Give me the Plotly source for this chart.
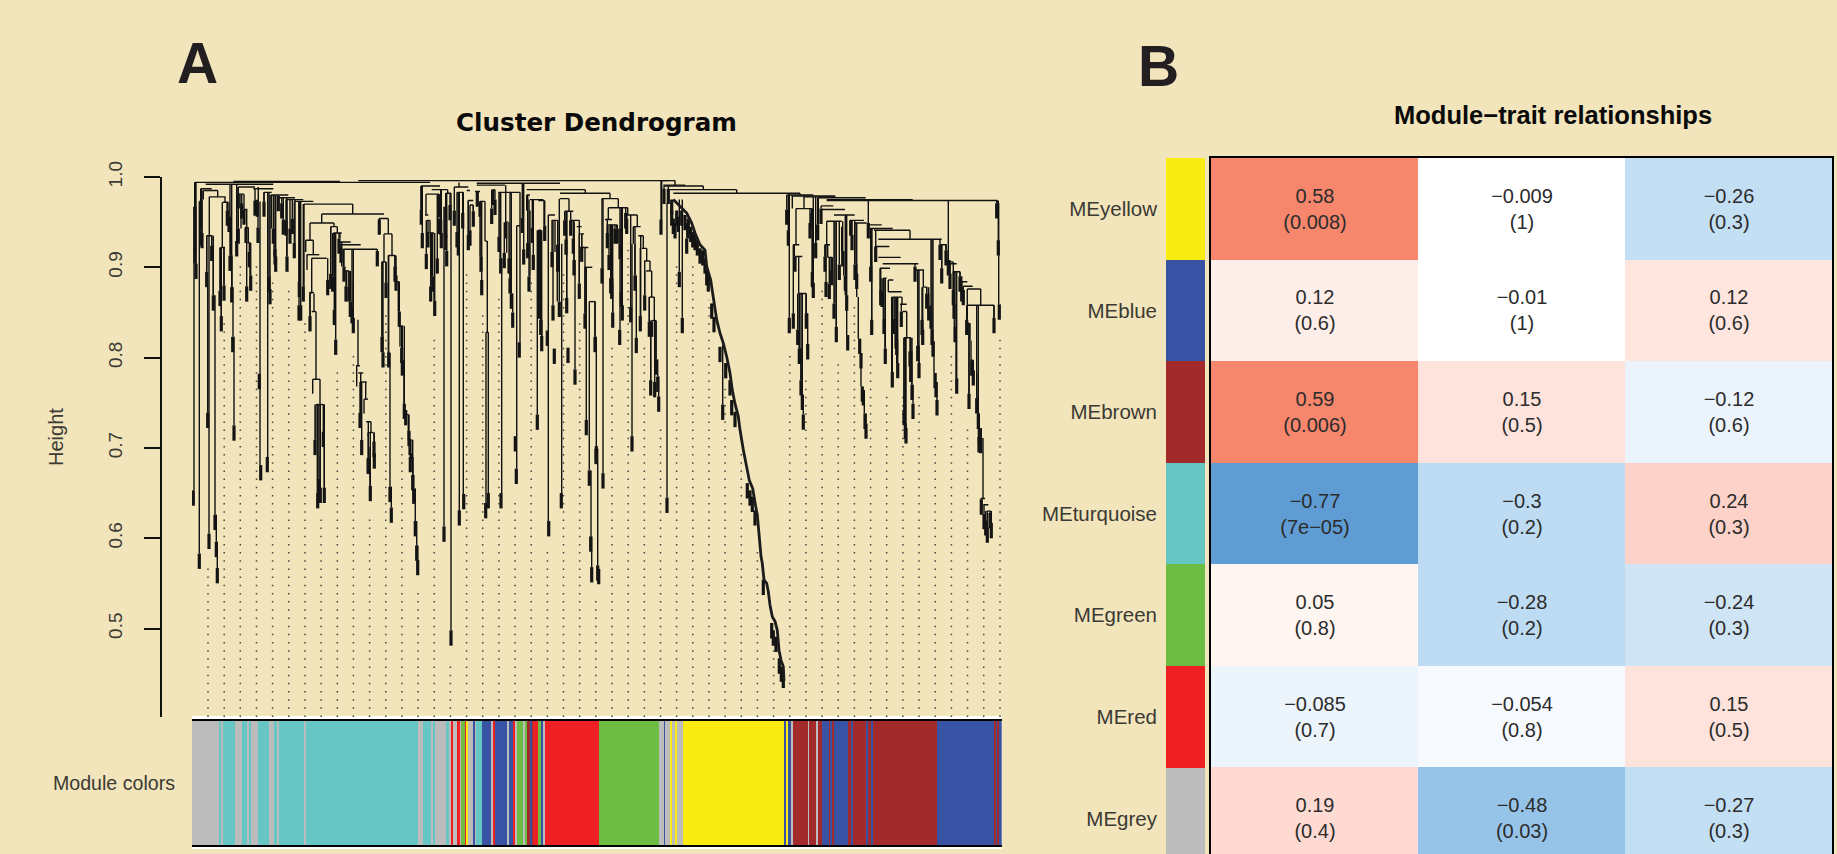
import plotly.graph_objects as go

# ------------------------------------------------------------ dendrogram data
# horizontal merge brackets: left / right gene-order position, merge height
cap_left = [3,41.3,13.7,9,11.3,17.3,30.7,14.7,29,46.3,48,52,53,55.3,61.3,63,72,78.7,86.3,94.7,103,112,129.7,118,187.3,192,138.7,141.3,146.3,148,151.3,113.7,114.7,119.7,117.3,119.7,120.7,124,152,196.3,189.7,204.7,208,164,166.3,168,172,174,176.3,213,216.3,
 229,239.7,234,233,234.7,238,254,262.3,265.3,274.7,276.3,278,284.7,283,288,293,294,300.7,306.3,313,324.7,334.7,334.7,338,346.3,356.3,359.7,346.3,284.7,
 166.3,469,471.3,472,475.3,481.3,594.7,599.7,611.3,626.3,634.7,634.7,368,368,368,372.7,378.7,384.7,387.3,389.7,393,397.3,409.7,416.3,413,416.3,433.7,441.3,446.3,449.7,452,454,457.3,459.7,
 604,601.3,603,606.7,629.7,629,634.7,642,633,635.7,658,663,676.3,678,682,686.3,683,686.3,690.7,688,691.3,696.3,696.3,699.7,708,710.7,712,724,731.3,748,753,756.3,761.3,768,771.3,775.3,775.3,774,778.7,788.7,791.3,794.7]
cap_right = [238,148,81.3,19.7,25.7,33.3,36.3,20.3,33,63,52,55.3,56.3,58.7,81.3,66.3,79.7,96.3,103,111.3,121.3,160.7,192,142,196.3,200,145.3,149.7,158.7,168.7,185.3,121.3,127.3,134.7,122,124,128,131.3,157.3,203,194,207.3,211.3,168,171.3,174.7,176,179,181.3,216.3,219.7,
 248,255.7,247,236.3,238,242,259,276.3,271.3,278,281.3,281.3,313,288,293,295.3,296.3,303,328,316.3,328,368,338,351.3,352.3,363,365.3,349,368,
 476.7,483,493,511.3,544.7,608,621.3,643,643,673.7,720.7,805.3,393.3,418,377,381.3,387.3,389.7,392,396.3,400.3,403.3,426.3,435.7,420,424.7,445.3,448.7,451.3,454.7,458,459.7,462.3,464,
 619.7,607.3,610.3,614,653,641.3,649.7,662.7,638,640.3,672,674.7,689.7,700.7,718,749.7,697.3,708.7,726.3,698,694.7,701.3,709.7,710,714.7,714.7,718.7,732,735.3,754.7,761.3,764.7,768,775.3,780.7,788.7,802,777.3,781.3,793,796.3,799]
cap_height = [.994,.995,.992,.987,.985,.978,.972,.935,.922,.989,.981,.964,.944,.927,.987,.974,.983,.980,.977,.975,.973,.970,.959,.949,.954,.937,.945,.938,.928,.925,.920,.930,.914,.910,.872,.851,.776,.748,.896,.913,.906,.884,.835,.791,.783,.773,.754,.729,.717,.737,.709,
 .990,.986,.981,.958,.952,.938,.982,.989,.983,.985,.974,.969,.991,.984,.973,.929,.828,.986,.983,.950,.946,.986,.980,.975,.974,.958,.952,.941,.993,
 .996,.996,.991,.990,.986,.982,.980,.979,.978,.977,.975,.974,.986,.982,.976,.962,.952,.945,.937,.922,.900,.862,.976,.966,.953,.947,.958,.945,.935,.921,.907,.896,.867,.841,
 .965,.925,.912,.871,.964,.968,.951,.958,.925,.911,.952,.949,.947,.943,.941,.931,.923,.911,.904,.899,.888,.886,.873,.867,.859,.851,.822,.897,.878,.925,.906,.904,.895,.884,.879,.876,.858,.838,.797,.644,.637,.630]

# vertical branches: gene-order position, upper and lower height
stem_order = [3,2,7.3,9,11.3,25.7,17.3,17,15.7,14.7,19.7,21.3,23,24.3,25.3,30.3,33,28.3,32,29.3,35.3,38.7,40,41,42,46.3,49,52,54.7,56.3,58,63,68,66.3,72,75.7,79.3,82,94.7,103,107.3,112,113.7,121.3,115,119.7,118,122,124,120.7,128,124,132,125.3,128.3,132.3,118,129.7,160.7,142,138.7,143,142,145.3,148,149.7,151.3,154.7,157,161.3,166,164.7,168.7,173.7,172,176.3,179,168,178,182.3,196.3,187.3,192,200,190,194,198,196.3,199.3,203,206.3,208,209.7,212,213.7,216.3,219.7,221,223.3,224.7,225.7,203,207.3,218,221.7,
 229,234,238,239.7,242,247,252,259,255.7,267,267.3,271.3,276.3,281.3,288,293,295.3,294,296.3,308,309.7,313.7,314.7,318,319,320.7,324.7,328,328,334.7,338,341.3,345.3,347,348.7,349.7,352,356.3,363,365.3,369.7,
 469.7,475,487.3,490.3,377,374.7,382,383,378.7,387.3,389.7,393,394.3,397.3,399,399.7,403,404.3,405.7,411,416.3,415.3,419,420.7,424.7,428,428,430,440,441.3,443,444.3,448.7,452.7,457.3,458.7,462.3,464,465.7,466.7,530.7,
 597.3,600.3,604,602.3,606.7,607.3,609,610.3,611.3,614,615.7,619.7,620.3,621.3,612,626.3,623.7,634.7,633,635.7,638,640.3,649.7,651.7,653.3,654.7,643,644.3,662.7,664.7,666.3,667.7,669,670.3,672.3,674,679.7,683.7,688,691.3,693,696.3,699.7,703,704.7,710,709.3,714.7,712,713.3,718.7,719.7,721,725.7,727,731.3,734.7,736.7,739,740.3,742,743.7,745,748,749.7,754,756.3,758,761.3,762.3,764,768,769.7,775.3,788.7,802,805.3,806.7,778,775.3,779,781.3,784.7,786,787.3,789.3,791,777,
 483,493,511.3,544.7,608,643,718,393.3,418,426.3,435.7,445.3,451.3,454.7,458,459.7]
stem_top = [.994,.967,.973,.987,.985,.985,.978,.935,.879,.935,.935,.923,.869,.626,.596,.972,.978,.922,.922,.874,.972,.956,.913,.878,.823,.989,.981,.981,.964,.944,.927,.987,.973,.989,.983,.983,.980,.943,.977,.975,.973,.970,.930,.930,.914,.910,.871,.871,.851,.776,.776,.748,.748,.709,.690,.718,.949,.959,.970,.949,.945,.890,.938,.945,.938,.928,.920,.896,.896,.879,.842,.791,.783,.773,.754,.729,.729,.738,.701,.698,.954,.954,.937,.937,.906,.906,.805,.913,.657,.913,.884,.835,.812,.797,.742,.737,.694,.690,.655,.619,.592,.901,.851,.709,.670,
 .990,.981,.952,.938,.890,.981,.967,.982,.986,.994,.983,.983,.974,.969,.973,.973,.929,.828,.828,.983,.910,.991,.949,.910,.888,.871,.946,.983,.946,.980,.963,.975,.941,.941,.860,.842,.974,.958,.952,.925,.926,
 .996,.971,.975,.975,.976,.962,.949,.908,.962,.952,.937,.922,.900,.862,.675,.602,.862,.823,.699,.976,.966,.953,.947,.888,.947,.943,.926,.926,.926,.945,.926,.891,.935,.907,.867,.840,.867,.841,.798,.779,.814,
 .981,.979,.965,.925,.912,.871,.810,.775,.759,.871,.849,.965,.960,.895,.978,.977,.947,.951,.925,.925,.911,.911,.945,.918,.891,.869,.951,.860,.952,.903,.867,.821,.805,.768,.764,.738,.943,.941,.899,.888,.843,.886,.867,.867,.827,.867,.859,.851,.822,.742,.822,.807,.770,.897,.813,.897,.878,.871,.858,.831,.818,.783,.773,.931,.925,.925,.919,.908,.906,.875,.834,.895,.890,.876,.876,.858,.974,.971,.838,.858,.819,.790,.783,.755,.738,.722,.711,.838,
 .996,.991,.990,.986,.982,.979,.941,.986,.982,.976,.966,.958,.935,.921,.907,.896]
stem_bottom = [.967,.653,.583,.973,.975,.978,.935,.605,.739,.895,.924,.869,.626,.596,.567,.922,.972,.874,.880,.846,.963,.913,.878,.823,.725,.943,.943,.964,.944,.927,.891,.974,.681,.973,.973,.690,.943,.912,.912,.927,.884,.879,.917,.914,.897,.871,.846,.851,.776,.760,.748,.709,.718,.650,.656,.656,.930,.949,.959,.945,.893,.853,.890,.938,.932,.901,.901,.879,.879,.844,.791,.768,.738,.754,.738,.713,.717,.724,.658,.694,.937,.937,.906,.913,.823,.883,.657,.806,.634,.901,.851,.812,.797,.749,.737,.709,.687,.670,.619,.592,.576,.884,.835,.694,.655,
 .963,.958,.938,.890,.863,.973,.613,.498,.982,.989,.631,.649,.936,.962,.912,.929,.828,.639,.650,.910,.650,.949,.916,.888,.871,.850,.677,.946,.817,.963,.890,.944,.737,.860,.842,.824,.946,.619,.917,.862,.650,
 .952,.645,.895,.844,.962,.866,.908,.787,.952,.882,.923,.849,.731,.675,.602,.568,.823,.699,.570,.672,.953,.938,.888,.850,.943,.926,.831,.858,.713,.926,.891,.822,.846,.869,.840,.775,.841,.798,.779,.757,.748,
 .844,.965,.925,.912,.871,.810,.775,.759,.737,.849,.815,.960,.895,.883,.965,.947,.927,.925,.912,.911,.882,.895,.918,.891,.869,.825,.860,.834,.903,.867,.821,.805,.768,.764,.738,.727,.842,.923,.875,.843,.810,.873,.784,.827,.794,.859,.851,.822,.742,.722,.807,.770,.749,.813,.794,.878,.871,.858,.831,.818,.783,.773,.753,.925,.899,.919,.908,.893,.875,.834,.777,.890,.879,.858,.858,.844,.971,.859,.819,.838,.797,.783,.755,.738,.722,.711,.644,.760,
 .991,.990,.986,.982,.980,.978,.931,.982,.976,.966,.958,.945,.921,.907,.896,.867]

# terminal leaf pairs: gene-order position and height where the pair merges
leaf_hang = 0.017
tip_order = [3,3,3,3,4,9,9,9,10,14.7,15.7,19.7,21.3,28,32,29.3,35.3,37,38,39.7,40.7,42,46.3,46.3,44.7,49.7,52,54,57.3,58.7,54.7,63,65.3,66,67.3,72,77,78,81.3,83,83.7,86.3,89.7,91.3,94,100.3,98,95,102.3,107.3,107,111.3,108.7,118,135.7,138.7,142.3,143.7,140.7,147,149,152,154,157,158.3,160,161.3,123,131.3,185.3,187.3,190,191,194,196.7,203,204,207.3,209.7,210.3,212.3,213.7,217,218,
 229.3,230.3,234.3,236,238.7,240.7,242.7,245.3,247,247,249.3,248.7,254.7,253.7,253.7,253.7,258,262.3,265,266.3,270.7,276.3,278,281.3,289,289.7,285.3,288,299.7,300.7,303,307,308.7,312.3,313.7,317,318,319.3,320.7,327.3,323.3,330.3,331.7,335.7,337,340.3,341.3,345.3,347,347,347,348.7,349.7,352.7,355.3,360,361,362.3,365.7,365.7,367.3,
 1.3,7.3,17,23,24.3,25.3,68.7,75.3,127,125.7,128.3,132.3,176.3,178.3,182.3,198,199.3,218.3,220.7,221.7,223.3,224.7,225.7,252,259,267.3,271.7,293.7,296.3,309,324.3,356.7,369.3,169.7,168,176.3,182,
 469,472,476.3,372.7,374,376,374.7,378.7,381.3,382,383,387.3,389.7,393,394.3,403,404.3,410,415.3,417,418.7,419.7,420.7,423,425.3,428,427.7,429.3,430.3,433.7,434.7,438.7,440,443,444.3,448.3,452.7,457.3,458.7,459.7,462.7,464,465.7,466.7,479.7,481.3,483,487.3,490.3,494.7,495.7,530.7,397.3,398.7,399.7,404,405.7,406.7,411,475,787,
 594.7,596.3,597.3,601.3,603,605.7,607.3,609,610.3,611.3,614.3,615.7,619.7,618,620.3,621.3,623.7,625.7,629,633,634,637.3,639.7,642,644.3,647.3,650.7,653.3,654.7,655.7,658.7,660,663,664.7,667.7,669,670.3,671.3,673,674,676.3,678.7,679.7,683.7,688.7,690,692,693.3,700.3,702,704,704.7,705.7,709.3,712,713.3,714,718,718.7,720,721,723,725.7,727,730,730.7,734.7,736.7,739,740,741,743,744,745,748,749.7,754,756.3,758,761.3,762,763,764.7,768,769.7,771.3,774.7,802,804.7,806.3,807.3,777,779.7,781.3,784.7,786.3,787.3,788.7,789.3,792,793.7,795.3,798,799.3,
 479.7,484.7,486.3,489.7,493,496.3,498.7,500.7,503,505.3,508,510.7,513,514.7,516.3,587.3,589.3,591.3,555.3,558,560.3,563,571.3,579.7,581.3,584,519.7,522,528,533.7,538,539.7,543]
tip_height = [.967,.950,.934,.921,.904,.974,.958,.941,.938,.895,.739,.924,.869,.874,.880,.846,.963,.956,.913,.878,.823,.725,.982,.943,.929,.971,.964,.944,.917,.891,.879,.974,.973,.944,.782,.973,.890,.876,.943,.920,.912,.979,.971,.953,.952,.954,.943,.912,.927,.884,.858,.879,.858,.846,.886,.893,.853,.820,.890,.932,.922,.901,.879,.879,.862,.855,.844,.709,.718,.918,.953,.823,.806,.883,.806,.901,.891,.851,.811,.797,.749,.742,.719,.709,
 .964,.938,.915,.939,.879,.890,.863,.910,.973,.954,.938,.953,.918,.967,.950,.936,.969,.963,.939,.930,.960,.936,.941,.962,.912,.886,.984,.973,.965,.986,.975,.934,.910,.916,.949,.910,.888,.871,.850,.817,.713,.955,.920,.927,.890,.944,.914,.737,.893,.877,.860,.842,.824,.946,.830,.917,.858,.810,.925,.912,.862,
 .653,.583,.605,.626,.596,.567,.681,.690,.666,.650,.656,.656,.688,.658,.694,.657,.634,.690,.670,.655,.619,.592,.576,.613,.498,.631,.649,.639,.650,.650,.677,.619,.650,.709,.739,.689,.707,
 .953,.987,.987,.952,.931,.811,.866,.952,.932,.908,.787,.882,.923,.849,.731,.823,.702,.899,.938,.914,.888,.882,.850,.943,.943,.926,.831,.873,.858,.960,.954,.856,.713,.891,.822,.846,.869,.840,.775,.840,.773,.798,.779,.757,.963,.954,.949,.895,.844,.932,.949,.748,.675,.602,.568,.699,.570,.566,.672,.645,.712,
 .964,.941,.844,.849,.912,.831,.810,.775,.759,.737,.849,.815,.960,.949,.895,.883,.927,.947,.965,.912,.884,.882,.897,.860,.834,.903,.918,.891,.869,.825,.952,.936,.903,.893,.821,.805,.768,.764,.738,.727,.949,.901,.842,.923,.875,.873,.843,.810,.784,.843,.827,.820,.794,.851,.742,.727,.722,.807,.790,.770,.749,.901,.813,.794,.842,.831,.871,.858,.849,.831,.818,.783,.773,.753,.925,.899,.919,.908,.893,.875,.860,.834,.777,.890,.879,.875,.842,.844,.971,.930,.859,.760,.797,.786,.755,.738,.722,.711,.643,.627,.620,.612,.628,.617,
 .975,.963,.956,.963,.958,.954,.945,.939,.936,.930,.921,.919,.910,.897,.890,.467,.458,.451,.661,.653,.646,.631,.554,.506,.498,.491,.860,.845,.812,.794,.775,.753,.740]

# the long single staircase cluster in the middle of the tree
chain_order = [481.3,484.7,489.7,494.7,499.7,503,508,513,514.7,518.7,520.7,523,524.7,528,531.3,534.7,538,540.3,543,546.3,548,551.3,553.3,555.3,557.3,560.7,562.3,563.7,565.3,566.7,567.7,569,570.3,572,574.7,576.3,578,580.3,583,585.3,587,589,591.3,592]
chain_height = [.975,.971,.965,.960,.949,.938,.925,.919,.901,.886,.871,.856,.842,.827,.816,.801,.783,.764,.749,.735,.720,.698,.687,.674,.664,.655,.642,.635,.626,.607,.591,.580,.572,.554,.550,.541,.526,.513,.508,.498,.476,.465,.458,.442]

# dotted guide lines: position, height of the guide top
guide_order = [16,32.2,48.3,64.5,80.6,96.8,113,129.1,145.3,161.4,177.6,193.8,209.9,226.1,242.2,258.4,274.6,290.7,306.9,323,339.2,355.4,371.5,387.7,403.8,420,436.2,452.3,468.5,484.6,500.8,517,533.1,549.3,565.4,581.6,597.8,613.9,630.1,646.2,662.4,678.6,694.7,710.9,727,743.2,759.4,775.5,791.7,808]
guide_top = [.569,.843,.908,.908,.889,.880,.844,.623,.790,.806,.623,.853,.717,.540,.825,.460,.899,.853,.872,.642,.889,.587,.899,.845,.532,.816,.927,.817,.725,.908,.908,.864,.772,.694,.587,.495,.806,.779,.880,.797,.862,.806,.761,.761,.761,.714,.806,.723,.579,.825]
height_ticks = [0.5, 0.6, 0.7, 0.8, 0.9, 1.0]

# ------------------------------------------------------------ module colour strip
strip_edges = [0,27.3,29.7,31.3,42.7,50,55.3,56.7,59,64.7,66,77.3,82,85.7,87,112,113.7,226,230.7,239.7,240.7,243,254,257.3,259.3,261.3,265.3,268,269,273.7,274.7,276,281.3,283,284,290.3,298.7,301.3,303.3,314.7,316.7,321.3,323.3,324.7,327.3,330.7,333.3,335,338,340.7,341.3,346,348.7,350.7,353,407.3,467,472,473.3,478,480,483,485,489.3,491.3,592.3,594.7,595.7,598.7,601.3,616,617.3,624,626,629.7,637.3,638,640.7,642.3,656.3,659.3,660.7,674,676,679.7,681.3,745.3,802.3,804,805.3,807.3,809.7]
strip_modules = ["grey","turquoise","grey","turquoise","grey","turquoise","grey","turquoise","grey","grey","turquoise","grey","turquoise","grey","turquoise","grey","turquoise","grey","turquoise","grey","turquoise","grey","turquoise","grey","red","grey","red","grey","green","red","yellow","grey","blue","grey","turquoise","blue","grey","red","blue","grey","blue","red","grey","green","green","grey","green","brown","blue","brown","red","green","blue","grey","red","green","grey","blue","grey","yellow","grey","yellow","grey","grey","yellow" ,"blue","yellow","blue","grey","brown","grey","brown","grey","brown","blue","brown","blue","brown","blue","brown","blue","brown","blue","brown","blue","brown","blue","brown","blue","brown","blue"]
module_colors = {"yellow":"#F8EC12","blue":"#3953A4","brown":"#A32A2A","turquoise":"#65C6C3","green":"#6DBD45","red":"#EE2024","grey":"#BCBCBC"}

# ------------------------------------------------------------ module-trait table
me_names = ["MEyellow","MEblue","MEbrown","MEturquoise","MEgreen","MEred","MEgrey"]
me_modules = ["yellow","blue","brown","turquoise","green","red","grey"]
corr_col1 = [0.58,0.116,0.59,-0.77,0.05,-0.085,0.19]
corr_col2 = [-0.009,-0.01,0.15,-0.3,-0.28,-0.054,-0.48]
corr_col3 = [-0.26,0.124,-0.12,0.24,-0.24,0.15,-0.27]
corr_text1 = ["0.58","0.12","0.59","−0.77","0.05","−0.085","0.19"]
corr_text2 = ["−0.009","−0.01","0.15","−0.3","−0.28","−0.054","−0.48"]
corr_text3 = ["−0.26","0.12","−0.12","0.24","−0.24","0.15","−0.27"]
pval_text1 = ["0.008","0.6","0.006","7e−05","0.8","0.7","0.4"]
pval_text2 = ["1","1","0.5","0.2","0.2","0.8","0.03"]
pval_text3 = ["0.3","0.6","0.6","0.3","0.3","0.5","0.3"]
palette = [(-1,"#3A7FC0"),(-.77,"#5E9CD3"),(-.48,"#96C4E9"),(-.30,"#BDDCF4"),(-.28,"#BDDCF4"),(-.27,"#C3DFF4"),(-.26,"#C3DFF4"),(-.24,"#CFE5F5"),(-.12,"#EBF3FC"),(-.085,"#ECF4FC"),(-.054,"#F6FAFE"),(-.01,"#FFFFFF"),(0,"#FFFFFF"),(.05,"#FFF6F2"),(.116,"#FEEEEA"),(.124,"#FEE6DF"),(.15,"#FEE3DC"),(.19,"#FEDAD3"),(.24,"#FCD2C9"),(.58,"#F6866C"),(.59,"#F6866C"),(1,"#E64A2C")]

BG = "#F2E4BB"
W, H = 1837, 854
SANS = "Liberation Sans"
INK = "#3b3a33"

def px_x(v): return v / W
def px_y(v): return 1 - v / H

def vlines(xs, tops, bots):
    out_x, out_y = [], []
    for x, t, b in zip(xs, tops, bots):
        out_x += [x, x, None]
        out_y += [t, b, None]
    return out_x, out_y

fig = go.Figure()

# guides are drawn upward so that their dots line up across the tree
bottom_h = 0.402
gx, gy = vlines(guide_order, [bottom_h] * len(guide_order), guide_top)
fig.add_trace(go.Scatter(x=gx, y=gy, mode="lines", hoverinfo="skip",
                         line=dict(color="#444444", width=1.5, dash="1.5px,6.67px")))
cx, cy = [], []
for l, r, h in zip(cap_left, cap_right, cap_height):
    cx += [l, r, None]
    cy += [h, h, None]
sx, sy = vlines(stem_order, stem_top, stem_bottom)

# every leaf pair hangs from the lowest bracket above it; the staircase cluster carries its own
link_tops, link_bots, link_xs = [], [], []
for u, h in zip(tip_order, tip_height):
    if min(chain_order) - 2 <= u <= max(chain_order) + 2:
        continue
    above = [ch for cl, cr, ch in zip(cap_left, cap_right, cap_height) if cl - 1.5 <= u <= cr + 1.5 and ch >= h]
    if above and min(above) - h <= 0.12:
        link_xs.append(u)
        link_tops.append(min(above))
        link_bots.append(h)
lx, ly = vlines(link_xs, link_tops, link_bots)

fig.add_trace(go.Scatter(x=cx + sx + lx, y=cy + sy + ly, mode="lines", hoverinfo="skip", cliponaxis=False,
                         line=dict(color="#111111", width=1.4)))
tx, ty = vlines(tip_order, tip_height, [h - leaf_hang for h in tip_height])
fig.add_trace(go.Scatter(x=tx, y=ty, mode="lines", hoverinfo="skip",
                         line=dict(color="#141414", width=3.2)))
fig.add_trace(go.Scatter(x=chain_order, y=chain_height, mode="lines", hoverinfo="skip",
                         line=dict(color="#1c1c1c", width=2.8)))

# module strip
n = min(len(strip_modules), len(strip_edges) - 1)
fig.add_trace(go.Bar(
    x=[(strip_edges[i] + strip_edges[i + 1]) / 2 for i in range(n)],
    width=[strip_edges[i + 1] - strip_edges[i] for i in range(n)],
    y=[1] * n, marker=dict(color=[module_colors[strip_modules[i]] for i in range(n)], line_width=0),
    xaxis="x2", yaxis="y2", hoverinfo="skip"))

# heat map
z = [[a, b, c] for a, b, c in zip(corr_col1, corr_col2, corr_col3)]
text = [[f"{a}<br>({p})", f"{b}<br>({q})", f"{c}<br>({r})"]
        for a, p, b, q, c, r in zip(corr_text1, pval_text1, corr_text2, pval_text2, corr_text3, pval_text3)]
scale = [[(v + 1) / 2, c] for v, c in palette]
fig.add_trace(go.Heatmap(z=z, x=[0, 1, 2], y=list(range(7)), zmin=-1, zmax=1, colorscale=scale,
                         showscale=False, text=text, texttemplate="%{text}", hoverinfo="skip",
                         textfont=dict(family=SANS, size=20, color="#2c2c2c"),
                         xaxis="x3", yaxis="y3"))
fig.add_trace(go.Bar(y=list(range(7)), x=[1] * 7, width=[1] * 7, orientation="h",
                     marker=dict(color=[module_colors[m] for m in me_modules], line_width=0),
                     xaxis="x4", yaxis="y4", hoverinfo="skip"))

row_top = 158.0
row_h = 101.6
rows_shown = (H - row_top) / row_h
heat_range = [rows_shown - 0.5, -0.5]
heat_domain = [0, px_y(row_top)]

hidden = dict(visible=False, showgrid=False, zeroline=False, automargin=False)
fig.update_layout(
    width=W, height=H, autosize=False, margin=dict(l=0, r=0, t=0, b=0, pad=0),
    paper_bgcolor=BG, plot_bgcolor="rgba(0,0,0,0)", showlegend=False, bargap=0,
    barmode="overlay",
    xaxis=dict(domain=[px_x(192), px_x(1001.7)], range=[0, 809.7], anchor="y", **hidden),
    yaxis=dict(domain=[px_y(717), px_y(177)], range=[bottom_h, 1.0], anchor="free", position=px_x(160.7),
               automargin=False, showgrid=False, zeroline=False, showline=True, linecolor="#111111", linewidth=1.5,
               ticks="outside", ticklen=16, tickwidth=1.5, tickcolor="#111111",
               tickvals=height_ticks, ticktext=[f"{t:.1f}" for t in height_ticks], tickangle=-90,
               tickfont=dict(family=SANS, size=19, color=INK), ticklabelstandoff=14),
    xaxis2=dict(domain=[px_x(192), px_x(1001.7)], range=[0, 809.7], anchor="y2", showgrid=False, zeroline=False,
                automargin=False, showticklabels=False, ticks="", showline=True, mirror=True, linecolor="#000000", linewidth=2),
    yaxis2=dict(domain=[px_y(845), px_y(721)], range=[0, 1], anchor="x2", **hidden),
    xaxis3=dict(domain=[px_x(1211), px_x(1832)], range=[-0.5, 2.5], anchor="y3", side="top", showgrid=False,
                automargin=False, zeroline=False, showticklabels=False, ticks="", showline=True, linecolor="#000000", linewidth=2),
    yaxis3=dict(domain=heat_domain, range=heat_range, anchor="x3", showgrid=False, zeroline=False, automargin=False,
                showticklabels=False, ticks="", showline=True, mirror=True, linecolor="#000000", linewidth=1.6),
    xaxis4=dict(domain=[px_x(1166), px_x(1205)], range=[0, 1], anchor="y4", **hidden),
    yaxis4=dict(domain=heat_domain, range=heat_range, anchor="x4", showgrid=False, zeroline=False, ticks="", automargin=False,
                tickvals=list(range(7)), ticktext=me_names, tickfont=dict(family=SANS, size=20.5, color=INK),
                ticklabelstandoff=8),
    shapes=[dict(type="rect", xref="paper", yref="paper", layer="below", line_width=0, fillcolor="#FFFFFF",
                 x0=px_x(192), x1=px_x(1001.7), y0=px_y(849), y1=px_y(716))],
)

def note(text, x, y, size, family=SANS, bold=False, color=INK, angle=0, anchor="center"):
    fig.add_annotation(text=text, xref="paper", yref="paper", x=px_x(x), y=px_y(y), showarrow=False,
                       xanchor=anchor, yanchor="middle", textangle=angle,
                       font=dict(family=family, size=size, color=color, weight=700 if bold else 400))

note("A", 197, 63, 57, bold=True, color="#231F20")
note("B", 1158, 66, 57, bold=True, color="#231F20")
note("Cluster Dendrogram", 596, 122.5, 24.6, family="DejaVu Sans", bold=True, color="#0a0a0a")
note("Module−trait relationships", 1553, 115, 25.5, bold=True, color="#0a0a0a")
note("Height", 56, 437, 20, angle=-90)
note("Module colors", 51, 783, 19.6, anchor="left")

fig.write_html("out.html", config={"displayModeBar": False},
               post_script="document.body.style.margin='0';document.body.style.overflow='hidden';")
